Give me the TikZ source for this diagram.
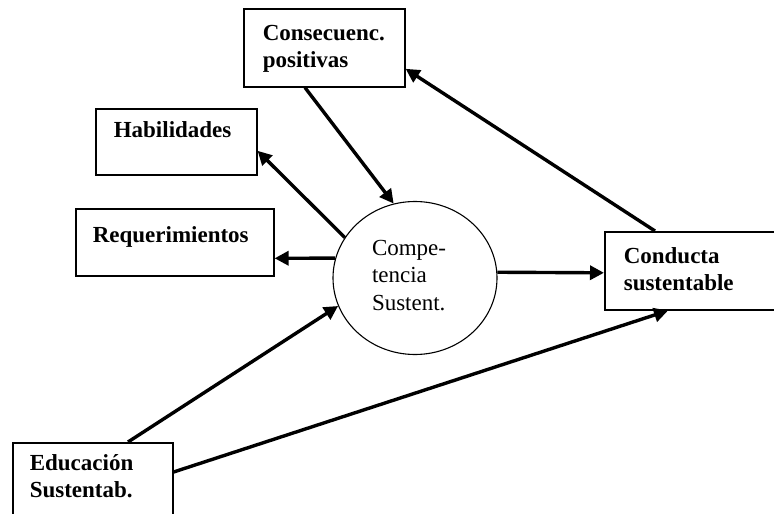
\documentclass[tikz,border=0pt]{standalone}
\usepackage{fontspec}
\setmainfont{Liberation Serif}
\usetikzlibrary{arrows.meta,shapes.geometric}
\begin{document}
\begin{tikzpicture}[x=1pt,y=-1pt,
  box/.style={draw, line width=1.6pt, inner sep=0pt, anchor=north west,
    font=\fontsize{23}{27}\selectfont\bfseries},
  arr/.style={line width=3.4pt, -{Triangle[length=14pt,width=14pt]}},
  competence/.style={draw, ellipse, line width=1.1pt, inner sep=0pt,
    font=\fontsize{23}{27.5}\selectfont}
]
\clip (0,0) rectangle (774,514);
\node[box, text height=32pt, text depth=46pt] (cons) at (243,8)
  {\hspace*{19pt}\parbox[t]{142pt}{\raggedright Consecuenc.\\positivas}};
\node[box, text height=29pt, text depth=37pt] (hab) at (95,108)
  {\hspace*{18pt}\makebox[143pt][l]{Habilidades}};
\node[box, text height=34pt, text depth=33pt] (req) at (75,208)
  {\hspace*{17pt}\makebox[181pt][l]{Requerimientos}};
\node[box, text height=32pt, text depth=46pt] (cond) at (604,231)
  {\hspace*{19pt}\parbox[t]{171pt}{\raggedright Conducta\\sustentable}};
\node[box, text height=28pt, text depth=72pt] (edu) at (12,442)
  {\hspace*{17pt}\parbox[t]{143pt}{\raggedright Educación\\Sustentab.}};
\node[competence, minimum width=164pt, minimum height=153pt,
  text height=20pt, text depth=66pt] (circ) at (415,278)
  {\parbox[t]{86pt}{\raggedright Compe-\\tencia\\Sustent.}};
\draw[arr] ([xshift=62pt]cons.south west) -- (circ.106);
\draw[arr] ([xshift=51pt]cond.north west) -- ([yshift=-21pt]cons.east);
\draw[arr] (circ.150) -- ([yshift=-9pt]hab.east);
\draw[arr] (circ.166) -- ([yshift=-16pt]req.east);
\draw[arr] (circ.4) -- ([yshift=-2pt]cond.west);
\draw[arr] ([xshift=116pt]edu.north west) -- (circ.200);
\draw[arr] ([yshift=-30pt]edu.north east) -- ([xshift=64pt]cond.south west);
\end{tikzpicture}
\end{document}
